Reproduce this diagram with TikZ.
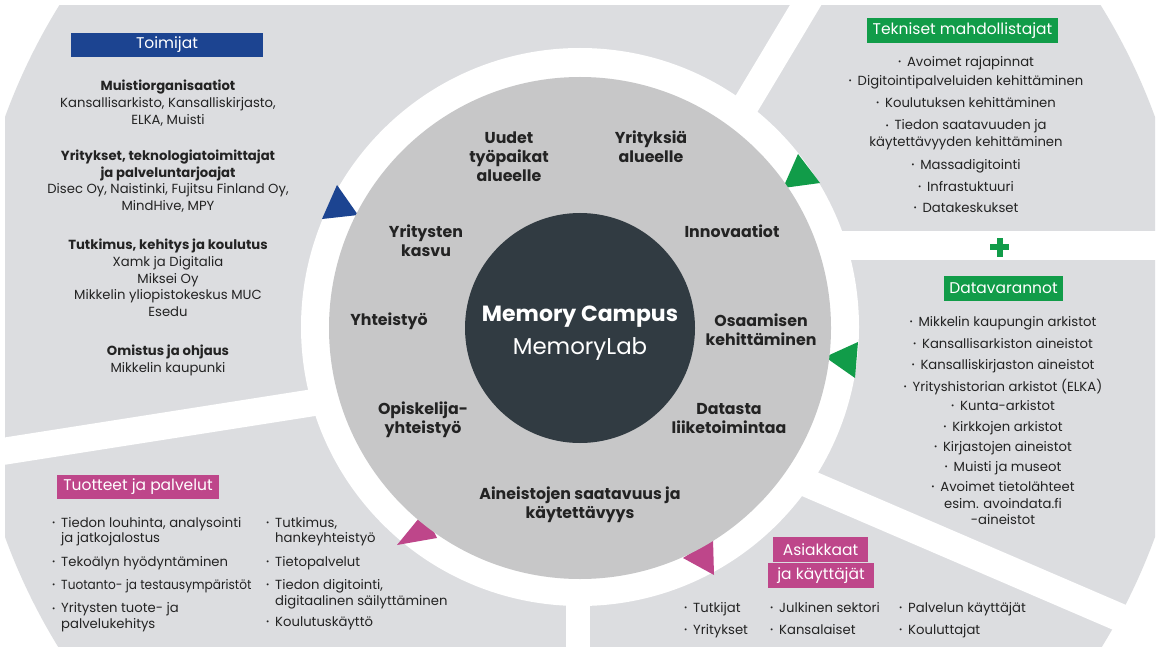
\documentclass[tikz,border=0pt]{standalone}
\usepackage{fontspec}
\setmainfont{Poppins}
\usepackage{graphicx}
\definecolor{panel}{RGB}{220,221,224}
\definecolor{ringgray}{RGB}{199,199,200}
\definecolor{core}{RGB}{49,59,66}
\definecolor{tblue}{RGB}{28,68,145}
\definecolor{tgreen}{RGB}{17,156,73}
\definecolor{tpink}{RGB}{190,70,138}
\definecolor{ink}{RGB}{35,35,35}
\newcommand\mybul{\makebox[9pt][l]{\raisebox{0.12em}{\scalebox{0.6}{•}}}}
\tikzset{
  body/.style={font=\fontsize{13.2}{16.8}\selectfont, text=ink, inner sep=0pt, align=center, anchor=base},
  bodyl/.style={font=\fontsize{13.2}{17}\selectfont, text=ink, inner sep=0pt, anchor=base west},
  lbl/.style={font=\fontsize{15.8}{19}\selectfont\bfseries, text=ink, inner sep=0pt, align=center, anchor=base},
  hdr/.style={inner sep=0pt, text=white, font=\fontsize{15.5}{18}\selectfont},
  sep/.style={white, line width=27pt},
}
\begin{document}
\begin{tikzpicture}[x=1pt,y=-1pt]
\useasboundingbox (0,0) rectangle (1159,647);
\fill[white] (0,0) rectangle (1159,647);
% outer panels
\begin{scope}
\clip (5,6) rectangle (1155,660);
\fill[panel] (580,327) circle[radius=612pt];
\end{scope}
% white separators
\draw[sep] (-20,455) -- (400,389);
\draw[sep] (720,148) -- (820,-19);
\fill[white] (800,231) rectangle (1160,260);
\draw[sep, line width=28pt] (760,462.8) -- (1200,652);
\fill[white] (566,500) rectangle (590,660);
% ring
\fill[white] (580,327) circle[radius=279pt];
% arrow triangles
\fill[tblue] (337,185) -- (322,219) -- (358,215) -- cycle;
\fill[tgreen] (798,154) -- (783,188) -- (820,183) -- cycle;
\fill[tgreen] (825,357) -- (858,342) -- (855,378) -- cycle;
\fill[tpink] (397,545) -- (424,512) -- (437,538) -- cycle;
\fill[tpink] (683,558) -- (713,539) -- (714,575) -- cycle;
% circles
\fill[ringgray] (580,328) circle[radius=251pt];
\fill[core] (580,328) circle[radius=115pt];
\node[inner sep=0pt, anchor=base, text=white, font=\fontsize{22}{24}\selectfont\bfseries] (mc) at (580,321.5) {Memory Campus};
\node[inner sep=0pt, anchor=base, text=white, font=\fontsize{22.9}{24}\selectfont] (ml) at (580,354.5) {MemoryLab};
% plus
\fill[tgreen] (990,244) rectangle (1009,250);
\fill[tgreen] (996.5,237.5) rectangle (1002.5,256.5);
% headers
\node[hdr, fill=tblue, minimum width=192pt, minimum height=24pt] (h1) at (167,45) {Toimijat};
\node[hdr, fill=tgreen, minimum width=191pt, minimum height=25pt] (h2) at (962.5,30.5) {Tekniset mahdollistajat};
\node[hdr, fill=tgreen, minimum width=119pt, minimum height=25pt] (h3) at (1003.5,288.5) {Datavarannot};
\node[hdr, fill=tpink, minimum width=162pt, minimum height=24pt] (h4) at (138,487) {Tuotteet ja palvelut};
\node[hdr, fill=tpink, minimum width=95pt, minimum height=25pt] (h5) at (820.5,549.5) {Asiakkaat};
\node[hdr, fill=tpink, minimum width=106pt, minimum height=25pt] (h6) at (821,575.5) {ja käyttäjät};
% circle labels (anchor base = last line)
\node[lbl] (c1) at (509,182) {Uudet\\työpaikat\\alueelle};
\node[lbl] (c2) at (651,163) {Yrityksiä\\alueelle};
\node[lbl] (c3) at (426,256.7) {Yritysten\\kasvu};
\node[lbl] (c4) at (732,237.7) {Innovaatiot};
\node[lbl] (c5) at (389,325) {Yhteistyö};
\node[lbl] (c6) at (761,345) {Osaamisen\\kehittäminen};
\node[lbl] (c7) at (423,433) {Opiskelija-\\yhteistyö};
\node[lbl] (c8) at (729,433) {Datasta\\liiketoimintaa};
\node[lbl] (c9) at (580,518) {Aineistojen saatavuus ja\\käytettävyys};
% Toimijat
\node[body] (a1) at (168,124.1) {\textbf{Muistiorganisaatiot}\\Kansallisarkisto, Kansalliskirjasto,\\ELKA, Muisti};
\node[body] (a2) at (168,210.6) {\textbf{Yritykset, teknologiatoimittajat}\\\textbf{ja palveluntarjoajat}\\Disec Oy, Naistinki, Fujitsu Finland Oy,\\MindHive, MPY};
\node[body] (a3) at (168,316.7) {\textbf{Tutkimus, kehitys ja koulutus}\\Xamk ja Digitalia\\Miksei Oy\\Mikkelin yliopistokeskus MUC\\Esedu};
\node[body] (a4) at (168,372) {\textbf{Omistus ja ohjaus}\\Mikkelin kaupunki};
% Tekniset
\node[body] (t1) at (966,66.5) {\mybul Avoimet rajapinnat};
\node[body] (t2) at (966,85.5) {\mybul Digitointipalveluiden kehittäminen};
\node[body] (t3) at (966,107.5) {\mybul Koulutuksen kehittäminen};
\node[body] (t4) at (966,146.5) {\mybul Tiedon saatavuuden ja\\käytettävyyden kehittäminen};
\node[body] (t5) at (966,169.5) {\mybul Massadigitointi};
\node[body] (t6) at (966,191.5) {\mybul Infrastuktuuri};
\node[body] (t7) at (966,212.5) {\mybul Datakeskukset};
% Datavarannot
\node[body] (d1) at (1003,326.5) {\mybul Mikkelin kaupungin arkistot};
\node[body] (d2) at (1003,348.5) {\mybul Kansallisarkiston aineistot};
\node[body] (d3) at (1003,369.5) {\mybul Kansalliskirjaston aineistot};
\node[body] (d4) at (1003,391.5) {\mybul Yrityshistorian arkistot (ELKA)};
\node[body] (d5) at (1003,410.5) {\mybul Kunta-arkistot};
\node[body] (d6) at (1003,431.5) {\mybul Kirkkojen arkistot};
\node[body] (d7) at (1003,451.5) {\mybul Kirjastojen aineistot};
\node[body] (d8) at (1003,471.5) {\mybul Muisti ja museot};
\node[body, font=\fontsize{13.2}{16.5}\selectfont] (d9) at (1003,524.5) {\mybul Avoimet tietolähteet\\esim. avoindata.fi\\-aineistot};
% Tuotteet
\node[bodyl] (p1) at (52,527.2) {\mybul Tiedon louhinta, analysointi};
\node[bodyl] (p1b) at (61,542.8) {ja jatkojalostus};
\node[bodyl] (p2) at (52,566.2) {\mybul Tekoälyn hyödyntäminen};
\node[bodyl] (p3) at (52,589.5) {\mybul \scalebox{0.92}[1]{Tuotanto- ja testausympäristöt}};
\node[bodyl] (p4) at (52,612.8) {\mybul Yritysten tuote- ja};
\node[bodyl] (p4b) at (61,628.5) {palvelukehitys};
\node[bodyl] (q1) at (266,527.2) {\mybul Tutkimus,};
\node[bodyl] (q1b) at (275,542.8) {hankeyhteistyö};
\node[bodyl] (q2) at (266,566.2) {\mybul Tietopalvelut};
\node[bodyl] (q3) at (266,589.5) {\mybul Tiedon digitointi,};
\node[bodyl] (q3b) at (275,605.2) {digitaalinen säilyttäminen};
\node[bodyl] (q4) at (266,626.2) {\mybul Koulutuskäyttö};
% Asiakkaat
\node[bodyl] (k1) at (684,612.5) {\mybul Tutkijat};
\node[bodyl] (k2) at (684,634.5) {\mybul Yritykset};
\node[bodyl] (k3) at (770,612.5) {\mybul Julkinen sektori};
\node[bodyl] (k4) at (770,634.5) {\mybul Kansalaiset};
\node[bodyl] (k5) at (899,612.5) {\mybul Palvelun käyttäjät};
\node[bodyl] (k6) at (899,634.5) {\mybul Kouluttajat};
\end{tikzpicture}
\end{document}
